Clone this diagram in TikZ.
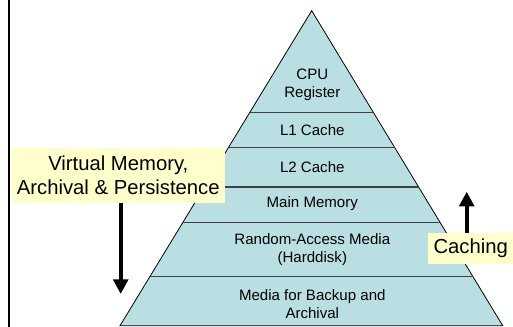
\documentclass[tikz,border=0pt]{standalone}
\usepackage{fontspec}
\setmainfont{Liberation Sans}
\usetikzlibrary{arrows.meta,positioning}

\definecolor{layerfill}{RGB}{185,223,226}
\definecolor{notefill}{RGB}{255,255,204}
\definecolor{divline}{RGB}{64,64,64}

\tikzset{
  layer/.style={align=center,font=\fontsize{11.3}{13.5}\selectfont,inner sep=0pt},
  note/.style={fill=notefill,align=center,font=\fontsize{15.2}{18}\selectfont,inner sep=2pt},
  bigarrow/.style={line width=3pt,-{Triangle[width=11pt,length=11pt]}}
}

\begin{document}
\begin{tikzpicture}[x=0.75pt,y=0.75pt,yscale=-1,xscale=1]
  \useasboundingbox (0,0) rectangle (513,327);

  %Straight Lines: left border
  \draw [line width=1.5pt] (9.3,0) -- (9.3,327);

  %Shape: Triangle (pyramid)
  \draw [fill=layerfill,line width=0.6pt] (311.7,10.7) -- (502.7,325.7) -- (120,325.7) -- cycle;
  %Straight Lines: layer borders
  \begin{scope}
    \clip (311.7,10.7) -- (502.7,325.7) -- (120,325.7) -- cycle;
    \foreach \yy in {112.3,147.7,187,222.7,276.7}
      \draw [divline,line width=1pt] (100,\yy) -- (520,\yy);
  \end{scope}

  % Text Node
  \node (cpu) at (312.3,85) [layer] {CPU\\Register};
  % Text Node
  \node (lone) at (312.3,130.5) [layer] {L1 Cache};
  % Text Node
  \node (ltwo) at (312.3,166.7) [layer] {L2 Cache};
  % Text Node
  \node (mainmem) at (312.3,203.3) [layer] {Main Memory};
  % Text Node
  \node (ram) at (312.3,249.7) [layer] {Random-Access Media\\(Harddisk)};
  % Text Node
  \node (backup) at (312.3,304.5) [layer] {Media for Backup and\\Archival};

  % Text Node: yellow notes
  \node (vmnote) at (118.3,175.5) [note,minimum width=213.3*0.75pt,minimum height=54.4*0.75pt] {Virtual Memory,\\Archival \& Persistence};
  \node (cachenote) at (470.7,248.7) [note,minimum width=84.7*0.75pt,minimum height=30.7*0.75pt] {Caching};

  %Straight Lines: arrows
  \coordinate (vmend) at (120.7,294);
  \coordinate (cacheend) at (466.7,191.7);
  \draw [bigarrow] (vmnote.south -| vmend) -- (vmend);
  \draw [bigarrow] (cachenote.north -| cacheend) -- (cacheend);

\end{tikzpicture}
\end{document}
